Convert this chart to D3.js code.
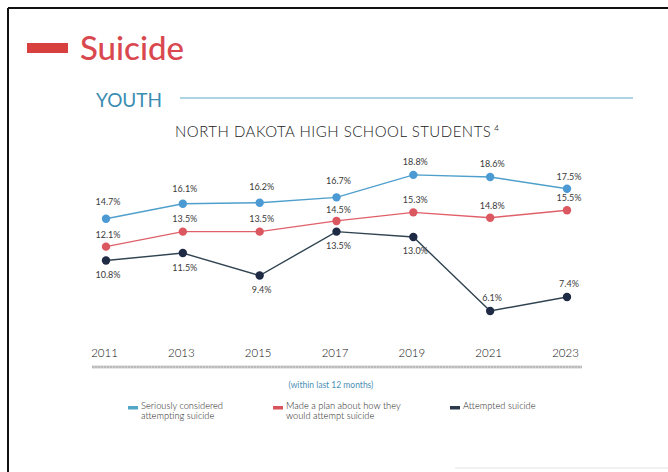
<!DOCTYPE html>
<html>
<head>
<meta charset="utf-8">
<script src="https://cdn.jsdelivr.net/npm/d3@7"></script>
<style>
  body { margin: 0; background: #fff; }
  svg { display: block; font-family: Lato, "Open Sans", sans-serif; }
</style>
</head>
<body>
<div id="chart"></div>
<script>
'use strict';

let width = 668;
let height = 472;

// data
const years = [2011, 2013, 2015, 2017, 2019, 2021, 2023];
const considered = [14.7, 16.1, 16.2, 16.7, 18.8, 18.6, 17.5];
const madePlan = [12.1, 13.5, 13.5, 14.5, 15.3, 14.8, 15.5];
const attempted = [10.8, 11.5, 9.4, 13.5, 13.0, 6.1, 7.4];
const legendLabels = [
    ["Seriously considered", "attempting suicide"],
    ["Made a plan about how they", "would attempt suicide"],
    ["Attempted suicide"]
];

// label offset per point (px from the dot, negative = above)
const consideredLabelDy = [-14, -12, -13, -13, -10, -10, -9];
const planLabelDy = [-9, -10, -10, -8, -9, -9, -9];
const attemptedLabelDy = [17, 18, 17, 17, 17, -10, -10];

const series = [
    { name: "considered", values: considered, line: "#4f9fcc", dot: "#4b9ad4", legend: "#52a7c6", dy: consideredLabelDy },
    { name: "plan", values: madePlan, line: "#e06069", dot: "#dc5860", legend: "#d9535c", dy: planLabelDy },
    { name: "attempted", values: attempted, line: "#2f4350", dot: "#1f2b44", legend: "#2c3a4b", dy: attemptedLabelDy },
];

const svg = d3.select("#chart")
    .append("svg")
    .attr("width", width)
    .attr("height", height);

// page frame
svg.append("line")
    .attr("x1", 8).attr("x2", width).attr("y1", 8).attr("y2", 8)
    .attr("stroke", "#111").attr("stroke-width", 2);
svg.append("line")
    .attr("x1", 8).attr("x2", 8).attr("y1", 8).attr("y2", height)
    .attr("stroke", "#111").attr("stroke-width", 2);
svg.append("line")
    .attr("x1", 455).attr("x2", width).attr("y1", 468).attr("y2", 468)
    .attr("stroke", "#e4e4e4").attr("stroke-width", 1);

// header
svg.append("rect")
    .attr("x", 27).attr("y", 43).attr("width", 41).attr("height", 10)
    .attr("fill", "#d8403f");
svg.append("text")
    .attr("x", 80).attr("y", 60)
    .attr("font-size", 33).attr("font-weight", 500)
    .attr("fill", "#d9474f")
    .text("Suicide");

svg.append("text")
    .attr("x", 96).attr("y", 107)
    .attr("font-size", 19)
    .attr("fill", "#3b8db2")
    .text("YOUTH");
svg.append("line")
    .attr("x1", 180).attr("x2", 633).attr("y1", 98).attr("y2", 98)
    .attr("stroke", "#5aaec8").attr("stroke-width", 1.2);

const title = svg.append("text")
    .attr("x", 175).attr("y", 137)
    .attr("font-size", 15)
    .attr("font-weight", 300)
    .attr("letter-spacing", 0.5)
    .attr("fill", "#222");
title.append("tspan").text("NORTH DAKOTA HIGH SCHOOL STUDENTS");
title.append("tspan").attr("dx", 3).attr("dy", -6).attr("font-size", 8).text("4");

// scales
const x = d3.scalePoint()
    .domain(years)
    .range([106, 567]);

const y = d3.scaleLinear()
    .domain([6, 20])
    .range([312, 162]);

// x axis labels
const xAxis = d3.axisBottom(x).tickSize(0).tickPadding(0);
const gx = svg.append("g")
    .attr("transform", "translate(0,349)")
    .call(xAxis);
gx.select(".domain").remove();
gx.selectAll("text")
    .attr("x", -2)
    .attr("font-size", 11.5)
    .attr("font-weight", 300)
    .attr("font-family", "Lato, sans-serif")
    .attr("fill", "#111");

// textured baseline under the years
svg.append("line")
    .attr("x1", 92).attr("x2", 582).attr("y1", 367).attr("y2", 367)
    .attr("stroke", "#cfcfcf").attr("stroke-width", 3);
svg.append("line")
    .attr("x1", 92).attr("x2", 582).attr("y1", 367).attr("y2", 367)
    .attr("stroke", "#a5a5a5").attr("stroke-width", 1)
    .attr("stroke-dasharray", "2,1");

const line = d3.line()
    .x((d, i) => x(years[i]))
    .y(d => y(d));

const fmt = d => d.toFixed(1) + "%";

series.forEach(s => {
    svg.append("path")
        .datum(s.values)
        .attr("d", line)
        .attr("fill", "none")
        .attr("stroke", s.line)
        .attr("stroke-width", 1.4);

    svg.selectAll(".dot-" + s.name)
        .data(s.values)
        .join("circle")
        .attr("class", "dot-" + s.name)
        .attr("cx", (d, i) => x(years[i]))
        .attr("cy", d => y(d))
        .attr("r", 4.2)
        .attr("fill", s.dot);

    svg.selectAll(".lbl-" + s.name)
        .data(s.values)
        .join("text")
        .attr("class", "lbl-" + s.name)
        .attr("x", (d, i) => x(years[i]) + 2)
        .attr("y", (d, i) => y(d) + s.dy[i])
        .attr("text-anchor", "middle")
        .attr("font-size", 9)
        .attr("fill", "#3a3a3a")
        .text(fmt);
});

// note + legend
svg.append("text")
    .attr("x", 331).attr("y", 388)
    .attr("text-anchor", "middle")
    .attr("font-size", 8.5)
    .attr("fill", "#4a8fb5")
    .text("(within last 12 months)");

const legendX = [128, 273, 450];
legendLabels.forEach((lines, k) => {
    const g = svg.append("g").attr("transform", `translate(${legendX[k]},409)`);
    g.append("rect")
        .attr("x", 0).attr("y", -3).attr("width", 10).attr("height", 3.5)
        .attr("fill", series[k].legend);
    const t = g.append("text")
        .attr("x", 13).attr("y", 0)
        .attr("font-size", 9.3)
        .attr("font-weight", 300)
        .attr("fill", "#222");
    lines.forEach((l, j) => {
        t.append("tspan").attr("x", 13).attr("dy", j === 0 ? 0 : 10).text(l);
    });
});
</script>
</body>
</html>
